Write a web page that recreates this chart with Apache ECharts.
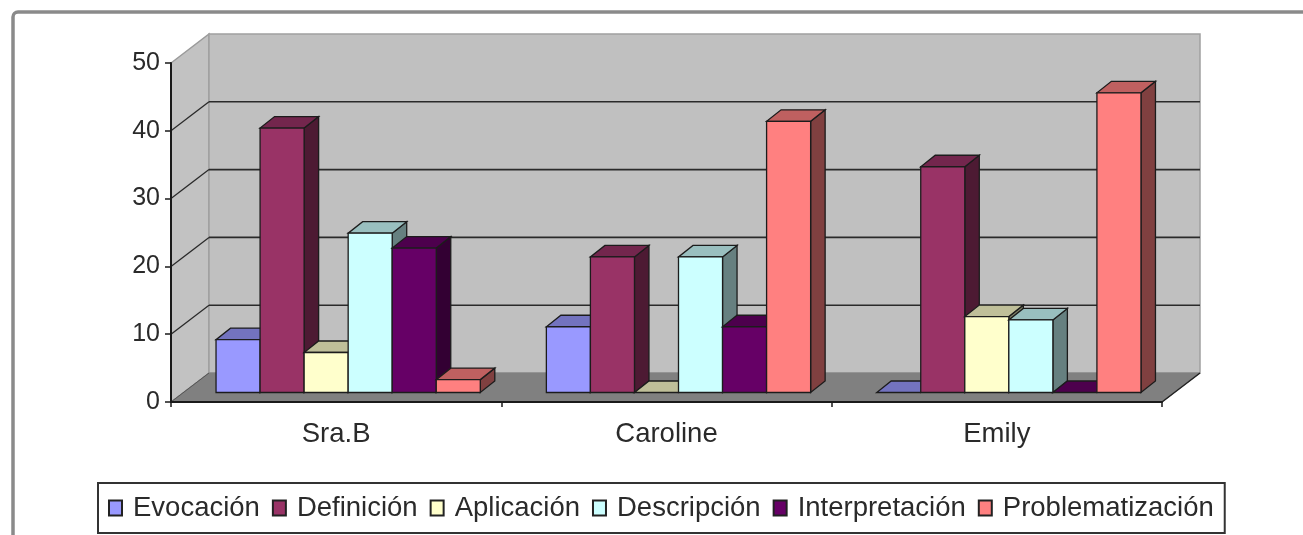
<!DOCTYPE html>
<html>
<head>
<meta charset="utf-8">
<style>html,body{margin:0;padding:0;background:#fff}#c{width:1303px;height:535px}</style>
<script src="https://cdn.jsdelivr.net/npm/echarts@6/dist/echarts.min.js"></script>
</head>
<body>
<div id="c"></div>
<script>
const categories = ['Sra.B', 'Caroline', 'Emily'];
const seriesNames = ['Evocación', 'Definición', 'Aplicación', 'Descripción', 'Interpretación', 'Problematización'];
const evocacion = [7.8, 9.7, 0];
const definicion = [39, 20, 33.3];
const aplicacion = [5.9, 0, 11.2];
const descripcion = [23.5, 20, 10.7];
const interpretacion = [21.3, 9.7, 0];
const problematizacion = [1.9, 40, 44.2];
const seriesValues = [evocacion, definicion, aplicacion, descripcion, interpretacion, problematizacion];
const colors = ['#9999FF', '#993366', '#FFFFCC', '#CCFFFF', '#660066', '#FF8080'];
const yTicks = [0, 10, 20, 30, 40, 50];

const WALL_DX = 38, WALL_DY = -29;   // depth of the plot box
const BAR_DX = 12, BAR_DY = -9.5;    // bars stand inside the floor
const DEPTH_DX = 14.5, DEPTH_DY = -11.5; // depth of a bar
const EDGE = '#1c1c1c';

function shade(hex, k) {
  const n = parseInt(hex.slice(1), 16);
  const f = s => Math.round(((n >> s) & 255) * k);
  return `rgb(${f(16)},${f(8)},${f(0)})`;
}
function poly(points, fill, stroke, lw) {
  return { type: 'polygon', shape: { points }, style: { fill, stroke: stroke || null, lineWidth: lw == null ? 1.3 : lw } };
}
function line(a, b, stroke, lw, dash) {
  return { type: 'line', shape: { x1: a[0], y1: a[1], x2: b[0], y2: b[1] },
           style: { stroke, lineWidth: lw, lineDash: dash || null } };
}

function renderWalls(params, api) {
  const g = params.coordSys;
  const xL = g.x, xR = g.x + g.width;
  const y0 = api.coord([0, 0])[1], yT = api.coord([0, 50])[1];
  const ch = [];
  ch.push(poly([[xL, y0], [xL, yT], [xL + WALL_DX, yT + WALL_DY], [xL + WALL_DX, y0 + WALL_DY]], '#c2c2c2', '#9a9a9a', 1.5));
  ch.push(poly([[xL + WALL_DX, y0 + WALL_DY], [xL + WALL_DX, yT + WALL_DY], [xR + WALL_DX, yT + WALL_DY], [xR + WALL_DX, y0 + WALL_DY]], '#c0c0c0', '#a0a0a0', 1.5));
  ch.push(poly([[xL, y0], [xL + WALL_DX, y0 + WALL_DY], [xR + WALL_DX, y0 + WALL_DY], [xR, y0]], '#808080', '#808080', 1));
  yTicks.forEach(t => {
    if (t === 0 || t === 50) return;
    const y = api.coord([0, t])[1];
    ch.push(line([xL, y], [xL + WALL_DX, y + WALL_DY], '#2a2a2a', 1.3));
    ch.push(line([xL + WALL_DX, y + WALL_DY], [xR + WALL_DX, y + WALL_DY], '#2a2a2a', 1.6));
  });
  ch.push(line([xL, y0], [xL + WALL_DX, y0 + WALL_DY], '#555', 1));
  ch.push(line([xR, y0], [xR + WALL_DX, y0 + WALL_DY], '#222', 1.5));
  return { type: 'group', children: ch };
}

function makeRenderBar(i) {
  return function (params, api) {
    const p = api.coord([api.value(0), api.value(1)]);
    const base = api.coord([api.value(0), 0]);
    const band = api.size([1, 0])[0];
    const w = band * 2 / 15;
    const x0 = p[0] - 3 * w + i * w + BAR_DX;
    const x1 = x0 + w;
    const yB = base[1] + BAR_DY;
    const yT = p[1] + BAR_DY;
    const c = colors[i];
    const ch = [];
    ch.push(poly([[x1, yB], [x1, yT], [x1 + DEPTH_DX, yT + DEPTH_DY], [x1 + DEPTH_DX, yB + DEPTH_DY]], shade(c, 0.5), EDGE));
    ch.push(poly([[x0, yT], [x1, yT], [x1 + DEPTH_DX, yT + DEPTH_DY], [x0 + DEPTH_DX, yT + DEPTH_DY]], shade(c, 0.75), EDGE));
    if (yB - yT > 0.5) ch.push(poly([[x0, yB], [x0, yT], [x1, yT], [x1, yB]], c, EDGE));
    return { type: 'group', children: ch };
  };
}

const series = [{
  type: 'custom', name: '__walls', silent: true, z: 1,
  data: [[0, 0]], encode: { x: 0, y: 1 }, renderItem: renderWalls
}];
seriesNames.forEach((name, i) => {
  series.push({
    type: 'custom', name, z: 2 + i,
    itemStyle: { color: colors[i], borderColor: '#222', borderWidth: 1.5 },
    encode: { x: 0, y: 1 },
    data: seriesValues[i].map((v, k) => [k, v]),
    renderItem: makeRenderBar(i)
  });
});

const chart = echarts.init(document.getElementById('c'), null, { renderer: 'canvas' });
chart.setOption({
  animation: false,
  backgroundColor: '#fff',
  textStyle: { fontFamily: '"Liberation Sans", Arial, sans-serif' },
  graphic: [{
    type: 'rect', z: -10,
    shape: { x: 13, y: 12, width: 1400, height: 600, r: 5 },
    style: { fill: '#fff', stroke: '#8a8a8a', lineWidth: 3.5 }
  }],
  grid: { left: 171, top: 63, width: 991, height: 339 },
  xAxis: {
    type: 'category', data: categories, z: 20,
    axisLine: { lineStyle: { color: '#1a1a1a', width: 2 } },
    axisTick: { show: true, length: 5, lineStyle: { color: '#1a1a1a', width: 1.5 } },
    axisLabel: { color: '#2a2a2a', fontSize: 27.5, margin: 18, fontFamily: '"Liberation Sans", Arial, sans-serif' },
    splitLine: { show: false }
  },
  yAxis: {
    type: 'value', min: 0, max: 50, interval: 10, z: 20,
    axisLine: { show: true, lineStyle: { color: '#1a1a1a', width: 2 } },
    axisTick: { show: true, length: 6, lineStyle: { color: '#1a1a1a', width: 1.5 } },
    axisLabel: { color: '#2a2a2a', fontSize: 25, margin: 11, fontFamily: '"Liberation Sans", Arial, sans-serif' },
    splitLine: { show: false }
  },
  legend: {
    data: seriesNames, selectedMode: false, orient: 'horizontal',
    left: 98, top: 483, width: 1127, height: 50,
    padding: [11, 11, 11, 10],
    backgroundColor: '#fff', borderColor: '#333', borderWidth: 2,
    icon: 'rect', itemWidth: 13, itemHeight: 15, itemGap: 12,
    textStyle: { color: '#2a2a2a', fontSize: 27.5, padding: [3, 0, 0, 6], fontFamily: '"Liberation Sans", Arial, sans-serif' }
  },
  series
});
</script>
</body>
</html>
